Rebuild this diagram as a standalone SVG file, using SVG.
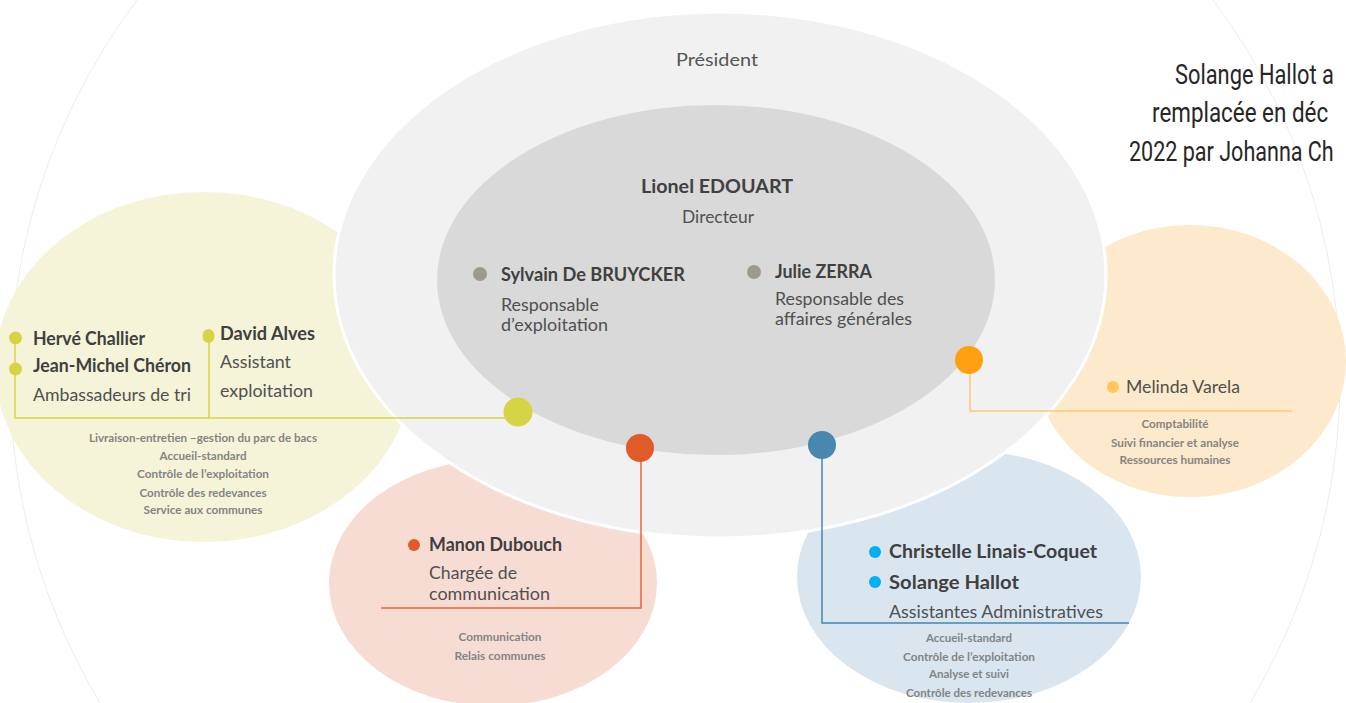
<svg xmlns="http://www.w3.org/2000/svg" width="1346" height="703" viewBox="0 0 1346 703">
<style>
text{font-family:Lato,"Open Sans","Liberation Sans",sans-serif;fill:#444;}
.b{font-weight:bold;font-size:18.5px;fill:#404040;}
.r{font-size:18px;fill:#505050;}
.s{font-weight:bold;font-size:11.5px;fill:#848484;text-anchor:middle;}
.c{text-anchor:middle;}
.note{font-family:Roboto,"Liberation Sans",sans-serif;font-size:28px;fill:#262626;}
.ln{fill:none;stroke-width:1.5;}
</style>
<rect width="1346" height="703" fill="#ffffff"/>
<g id="frame"><ellipse cx="675" cy="379" rx="665" ry="645" fill="none" stroke="#ececec" stroke-width="1"/></g>
<g id="bubbles">
<ellipse id="yellow-bubble" cx="204" cy="367" rx="209" ry="175" fill="#f5f4d8"/>
<ellipse id="pink-bubble" cx="493" cy="583" rx="164" ry="123" fill="#f7dcd4"/>
<ellipse id="blue-bubble" cx="969" cy="577" rx="172" ry="126" fill="#d9e6f0"/>
<ellipse id="orange-bubble" cx="1190" cy="361" rx="156" ry="136" fill="#fde9cb"/>
</g>
<g id="president"><ellipse cx="720" cy="275" rx="386" ry="263" fill="#f1f1f1" stroke="#ffffff" stroke-width="3"/>
<text class="c" x="717" y="66" style="font-size:17.5px;fill:#555" textLength="82" lengthAdjust="spacingAndGlyphs">Président</text></g>
<g id="direction"><ellipse cx="716" cy="280" rx="279" ry="175" fill="#d9d9d9"/>
<text class="b c" x="717" y="193" textLength="152" lengthAdjust="spacingAndGlyphs">Lionel EDOUART</text>
<text class="r c" x="718" y="223" style="font-size:17px" textLength="72" lengthAdjust="spacingAndGlyphs">Directeur</text>
<circle cx="480" cy="274" r="7" fill="#9e9a8e"/>
<text class="b" x="501" y="281" textLength="184" lengthAdjust="spacingAndGlyphs">Sylvain De BRUYCKER</text>
<text class="r" x="501" y="311" textLength="98" lengthAdjust="spacingAndGlyphs">Responsable</text>
<text class="r" x="501" y="331" textLength="107" lengthAdjust="spacingAndGlyphs">d’exploitation</text>
<circle cx="754" cy="272" r="7" fill="#9e9a8e"/>
<text class="b" x="775" y="278" textLength="97" lengthAdjust="spacingAndGlyphs">Julie ZERRA</text>
<text class="r" x="775" y="305" textLength="129" lengthAdjust="spacingAndGlyphs">Responsable des</text>
<text class="r" x="775" y="325" textLength="137" lengthAdjust="spacingAndGlyphs">affaires générales</text>
</g>
<g id="connectors">
<polyline class="ln" points="505,418 15,418 15,338" stroke="#d6d445"/>
<line class="ln" x1="209" y1="336" x2="209" y2="418" stroke="#d6d445"/>
<polyline class="ln" points="641,448 641,608 381,608" stroke="#e8663a"/>
<polyline class="ln" points="822,445 822,623 1129,623" stroke="#4a85ad"/>
<polyline class="ln" points="970,360 970,411 1292,411" stroke="#fcc87a"/>
<circle cx="518" cy="412" r="14.5" fill="#d6d445"/>
<circle cx="640" cy="448" r="14" fill="#e05a2a"/>
<circle cx="822" cy="445" r="14" fill="#4787b0"/>
<circle cx="969" cy="360" r="14" fill="#ffa010"/>
</g>
<g id="exploitation-team">
<circle cx="15.5" cy="338" r="6.5" fill="#d6d445"/>
<circle cx="15.5" cy="369" r="6.5" fill="#d6d445"/>
<ellipse cx="208.5" cy="336" rx="6" ry="7" fill="#d6d445"/>
<text class="b" x="33" y="345" textLength="112" lengthAdjust="spacingAndGlyphs">Hervé Challier</text>
<text class="b" x="33" y="372" textLength="158" lengthAdjust="spacingAndGlyphs">Jean-Michel Chéron</text>
<text class="r" x="33" y="401" textLength="158" lengthAdjust="spacingAndGlyphs">Ambassadeurs de tri</text>
<text class="b" x="220" y="340" textLength="95" lengthAdjust="spacingAndGlyphs">David Alves</text>
<text class="r" x="220" y="368" textLength="71" lengthAdjust="spacingAndGlyphs">Assistant</text>
<text class="r" x="220" y="397" textLength="93" lengthAdjust="spacingAndGlyphs">exploitation</text>
<text class="s" x="203" y="442" textLength="228" lengthAdjust="spacingAndGlyphs">Livraison-entretien –gestion du parc de bacs</text>
<text class="s" x="203" y="460" textLength="87" lengthAdjust="spacingAndGlyphs">Accueil-standard</text>
<text class="s" x="203" y="478" textLength="132" lengthAdjust="spacingAndGlyphs">Contrôle de l’exploitation</text>
<text class="s" x="203" y="497" textLength="127" lengthAdjust="spacingAndGlyphs">Contrôle des redevances</text>
<text class="s" x="203" y="514" textLength="119" lengthAdjust="spacingAndGlyphs">Service aux communes</text>
</g>
<g id="communication">
<circle cx="414" cy="545" r="6" fill="#e05a2a"/>
<text class="b" x="429" y="551" textLength="133" lengthAdjust="spacingAndGlyphs">Manon Dubouch</text>
<text class="r" x="429" y="579" textLength="88" lengthAdjust="spacingAndGlyphs">Chargée de</text>
<text class="r" x="429" y="600" textLength="121" lengthAdjust="spacingAndGlyphs">communication</text>
<text class="s" x="500" y="641" textLength="83" lengthAdjust="spacingAndGlyphs">Communication</text>
<text class="s" x="500" y="660" textLength="91" lengthAdjust="spacingAndGlyphs">Relais communes</text>
</g>
<g id="administration">
<circle cx="875" cy="552" r="6" fill="#00b0f0"/>
<circle cx="875" cy="582" r="6" fill="#00b0f0"/>
<text class="b" x="889" y="558" textLength="208" lengthAdjust="spacingAndGlyphs">Christelle Linais-Coquet</text>
<text class="b" x="889" y="589" textLength="130" lengthAdjust="spacingAndGlyphs">Solange Hallot</text>
<text class="r" x="889" y="618" textLength="214" lengthAdjust="spacingAndGlyphs">Assistantes Administratives</text>
<text class="s" x="969" y="642" textLength="86" lengthAdjust="spacingAndGlyphs">Accueil-standard</text>
<text class="s" x="969" y="661" textLength="132" lengthAdjust="spacingAndGlyphs">Contrôle de l’exploitation</text>
<text class="s" x="969" y="678" textLength="80" lengthAdjust="spacingAndGlyphs">Analyse et suivi</text>
<text class="s" x="969" y="697" textLength="126" lengthAdjust="spacingAndGlyphs">Contrôle des redevances</text>
</g>
<g id="finance">
<circle cx="1113" cy="387" r="6" fill="#ffc65a"/>
<text class="r" x="1126" y="393" textLength="114" lengthAdjust="spacingAndGlyphs">Melinda Varela</text>
<text class="s" x="1175" y="428" textLength="67" lengthAdjust="spacingAndGlyphs">Comptabilité</text>
<text class="s" x="1175" y="447" textLength="128" lengthAdjust="spacingAndGlyphs">Suivi financier et analyse</text>
<text class="s" x="1175" y="464" textLength="111" lengthAdjust="spacingAndGlyphs">Ressources humaines</text>
</g>
<g id="note">
<text class="note" transform="translate(1175,84) scale(0.78,1)">Solange Hallot a</text>
<text class="note" transform="translate(1152,122) scale(0.8,1)">remplacée en déc</text>
<text class="note" transform="translate(1129,161) scale(0.77,1)">2022 par Johanna Ch</text>
</g>
</svg>
